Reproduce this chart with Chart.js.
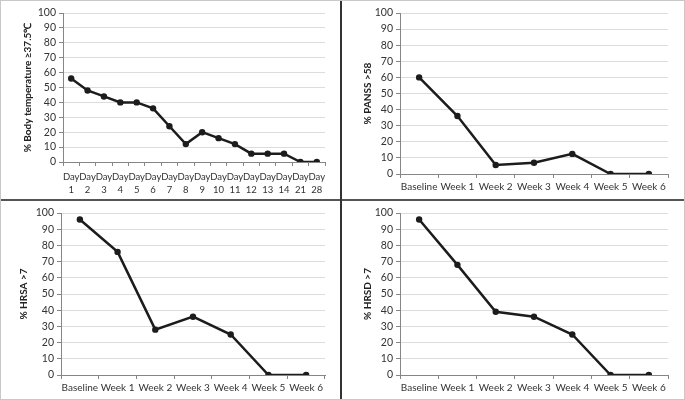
<!DOCTYPE html>
<html>
<head>
<meta charset="utf-8">
<script src="https://cdn.jsdelivr.net/npm/chart.js@4/dist/chart.umd.min.js"></script>
<style>
  html, body { margin: 0; padding: 0; background: #fff; }
  #wrap { position: relative; width: 685px; height: 400px; box-sizing: border-box; border: 1px solid #c8c8c8; }
  .panel { position: absolute; }
  .hline { position: absolute; left: 0; top: 198px; width: 683px; height: 2px; background: #555; }
  .vline { position: absolute; left: 339px; top: 0; width: 2px; height: 398px; background: #333; }
</style>
</head>
<body>
<div id="wrap">
  <div class="panel" style="left:0;top:0;width:339px;height:198px"><canvas id="c1"></canvas></div>
  <div class="panel" style="left:341px;top:0;width:342px;height:198px"><canvas id="c2"></canvas></div>
  <div class="panel" style="left:0;top:200px;width:339px;height:198px"><canvas id="c3"></canvas></div>
  <div class="panel" style="left:341px;top:200px;width:342px;height:198px"><canvas id="c4"></canvas></div>
  <div class="hline"></div>
  <div class="vline"></div>
</div>
<script>
// categorias
var dias = [['Day','1'],['Day','2'],['Day','3'],['Day','4'],['Day','5'],['Day','6'],['Day','7'],['Day','8'],
            ['Day','9'],['Day','10'],['Day','11'],['Day','12'],['Day','13'],['Day','14'],['Day','21'],['Day','28']];
var semanas = ['Baseline', 'Week 1', 'Week 2', 'Week 3', 'Week 4', 'Week 5', 'Week 6'];

// valores (%)
var temperatura = [56, 48, 44, 40, 40, 36, 24, 12, 20, 16, 12, 5.6, 5.6, 5.6, 0, 0];
var panss = [60, 36, 5.6, 7, 12.5, 0, 0];
var hrsa = [96, 76, 28, 36, 25, 0, 0];
var hrsd = [96, 68, 39, 36, 25, 0, 0];

var yTicks = [0, 10, 20, 30, 40, 50, 60, 70, 80, 90, 100];

Chart.defaults.font.family = 'Lato, "Open Sans", sans-serif';
Chart.defaults.color = '#333';

// Función para crear cada panel
function crearPanel(id, labels, datos, titulo, cfg) {
    var ctx = document.getElementById(id).getContext('2d');
    return new Chart(ctx, {
        type: 'line',
        data: {
            labels: labels,
            datasets: [{
                data: datos,
                borderColor: '#1c1c1c',
                backgroundColor: '#1c1c1c',
                borderWidth: 2.5,
                pointRadius: 3.2,
                pointBorderWidth: 0,
                pointHoverRadius: 3.2,
                tension: 0
            }]
        },
        options: {
            responsive: true,
            maintainAspectRatio: false,
            animation: false,
            layout: { padding: { left: cfg.padLeft, right: cfg.padRight, top: cfg.padTop, bottom: 0 } },
            plugins: { legend: { display: false }, tooltip: { enabled: false } },
            scales: {
                x: {
                    offset: true,
                    grid: { offset: true, drawOnChartArea: false, drawTicks: true, tickLength: 4, color: '#868686' },
                    border: { color: '#868686', width: 1 },
                    ticks: { autoSkip: false, maxRotation: 0, minRotation: 0, padding: cfg.xPad,
                              font: { size: cfg.xFont, lineHeight: cfg.xLine }, color: '#333' },
                    afterFit: function (s) { s.height = cfg.xHeight; }
                },
                y: {
                    min: 0, max: 100,
                    afterBuildTicks: function (s) { s.ticks = yTicks.map(function (v) { return { value: v }; }); },
                    grid: { color: '#dcdcdc', tickColor: '#868686', tickLength: 4, lineWidth: 1 },
                    border: { color: '#868686', width: 1 },
                    ticks: { autoSkip: false, padding: 3, font: { size: 10.5 }, color: '#333' },
                    title: { display: true, text: titulo, font: { size: 10, weight: 'bold' }, color: '#222', padding: 0 },
                    afterFit: function (s) { s.width = cfg.yWidth; }
                }
            }
        }
    });
}

crearPanel('c1', dias, temperatura, '% Body temperature \u226537.5\u2103',
    { padLeft: 21, yWidth: 41, padRight: 15, padTop: 12, xHeight: 37, xFont: 9.5, xPad: 5, xLine: 1.3 });
crearPanel('c2', semanas, panss, '% PANSS >58',
    { padLeft: 20, yWidth: 38, padRight: 16, padTop: 12, xHeight: 25, xFont: 10, xPad: 3, xLine: 1.2 });
crearPanel('c3', semanas, hrsa, '% HRSA >7',
    { padLeft: 17, yWidth: 43, padRight: 15, padTop: 12, xHeight: 24, xFont: 10, xPad: 3, xLine: 1.2 });
crearPanel('c4', semanas, hrsd, '% HRSD >7',
    { padLeft: 20, yWidth: 38, padRight: 16, padTop: 12, xHeight: 24, xFont: 10, xPad: 3, xLine: 1.2 });
</script>
</body>
</html>
